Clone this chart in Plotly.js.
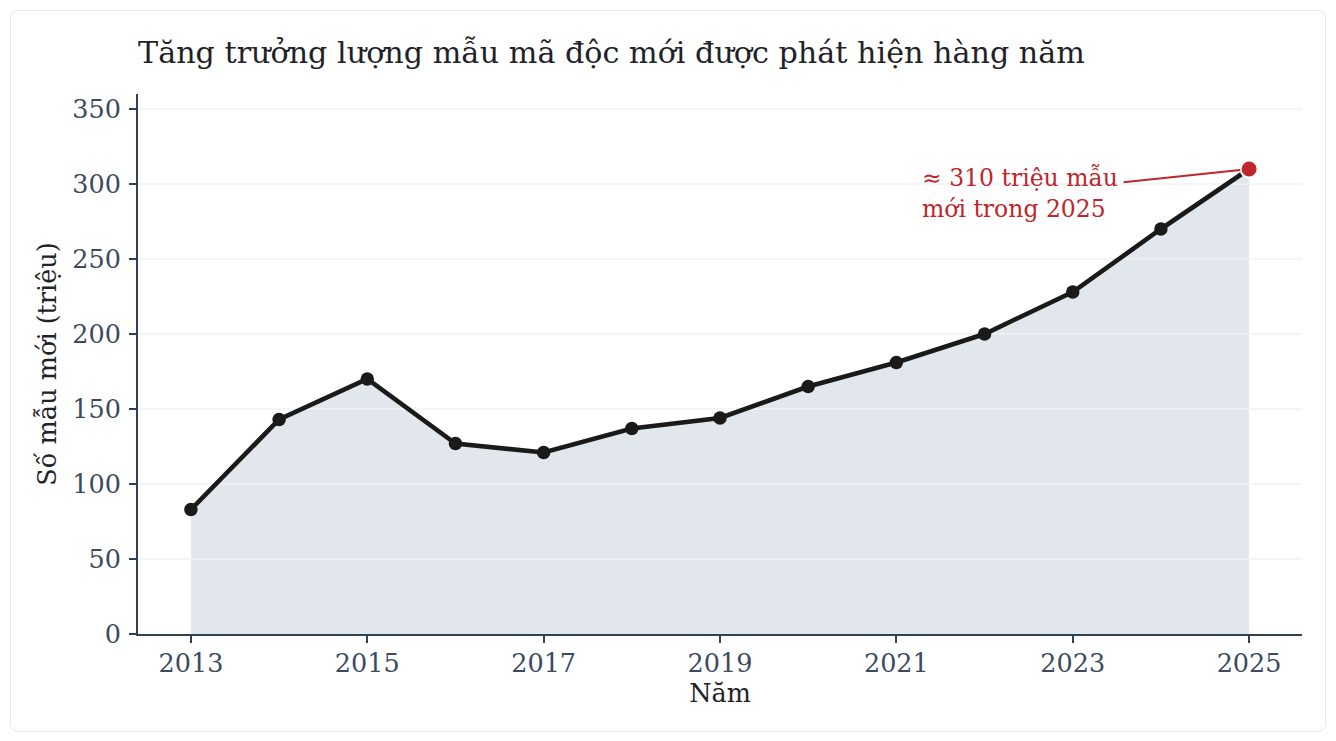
<!DOCTYPE html>
<html>
<head>
<meta charset="utf-8">
<script src="https://cdn.plot.ly/plotly-3.0.1.min.js"></script>
<style>
  html, body { margin: 0; padding: 0; background: #ffffff; }
  #card { position: absolute; left: 10px; top: 10px; width: 1316px; height: 722px;
          border: 1px solid #e3e8ef; border-radius: 8px; background: #ffffff; box-sizing: border-box; }
  #chart { position: absolute; left: 0; top: 0; width: 1336px; height: 741px; }
</style>
</head>
<body>
<div id="card"></div>
<div id="chart"></div>
<script>
const years = [2013, 2014, 2015, 2016, 2017, 2018, 2019, 2020, 2021, 2022, 2023, 2024, 2025];
const samples = [83, 143, 170, 127, 121, 137, 144, 165, 181, 200, 228, 270, 310];
const xTicks = [2013, 2015, 2017, 2019, 2021, 2023, 2025];
const yTicks = [0, 50, 100, 150, 200, 250, 300, 350];
const highlightYear = [2025];
const highlightValue = [310];
const annotationText = "≈ 310 triệu mẫu<br>mới trong 2025";

const xRange = [2012.4, 2025.6];
const yRange = [0, 360];
const FONT = "DejaVu Serif";

// gridlines drawn between the area fill and the line
const gx = [], gy = [];
yTicks.filter(v => v > 0).forEach(v => { gx.push(xRange[0], xRange[1], null); gy.push(v, v, null); });

const traces = [
  { x: years, y: samples, type: 'scatter', mode: 'lines', fill: 'tozeroy',
    fillcolor: '#e2e7ee', line: { color: '#d5dbe4', width: 1.5 }, hoverinfo: 'skip', showlegend: false },
  { x: gx, y: gy, type: 'scatter', mode: 'lines', line: { color: '#eff2f6', width: 1.5 },
    hoverinfo: 'skip', showlegend: false },
  { x: years, y: samples, type: 'scatter', mode: 'lines+markers',
    line: { color: '#1a1a1a', width: 4.6 }, marker: { color: '#1a1a1a', size: 13.5 }, showlegend: false },
  { x: highlightYear, y: highlightValue, type: 'scatter', mode: 'markers',
    marker: { color: '#c0262b', size: 17, line: { color: '#ffffff', width: 2 } }, showlegend: false }
];

const layout = {
  width: 1336, height: 741,
  paper_bgcolor: 'rgba(0,0,0,0)', plot_bgcolor: 'rgba(0,0,0,0)',
  margin: { l: 138, r: 34, t: 94, b: 107 },
  font: { family: FONT, color: '#1f2328' },
  title: { text: 'Tăng trưởng lượng mẫu mã độc mới được phát hiện hàng năm',
           x: 0, xref: 'paper', xanchor: 'left', y: 1 - 52 / 741, yref: 'container', yanchor: 'middle',
           font: { family: FONT, size: 30.2, color: '#1f2328' } },
  xaxis: {
    range: xRange, tickvals: xTicks, ticktext: xTicks.map(String),
    showgrid: false, zeroline: false,
    showline: true, linecolor: '#334155', linewidth: 2,
    ticks: 'outside', ticklen: 7, tickwidth: 2, tickcolor: '#334155',
    ticklabelstandoff: -2,
    tickfont: { family: FONT, size: 25.5, color: '#3b4a5e' },
    title: { text: 'Năm', font: { family: FONT, size: 25.5, color: '#1f2328' }, standoff: 7 }
  },
  yaxis: {
    range: yRange, tickvals: yTicks, ticktext: yTicks.map(String),
    showgrid: false, zeroline: false,
    showline: true, linecolor: '#334155', linewidth: 2,
    ticks: 'outside', ticklen: 7, tickwidth: 2, tickcolor: '#334155',
    ticklabelstandoff: 3,
    tickfont: { family: FONT, size: 25.5, color: '#3b4a5e' },
    title: { text: 'Số mẫu mới (triệu)', font: { family: FONT, size: 25.5, color: '#1f2328' }, standoff: 8 }
  },
  annotations: [{
    x: highlightYear[0], y: highlightValue[0], xref: 'x', yref: 'y',
    text: annotationText, align: 'left', borderpad: 5,
    showarrow: true, arrowhead: 0, arrowwidth: 2, arrowcolor: '#c0262b', standoff: 9,
    ax: -229, ay: 24,
    font: { family: FONT, size: 23.5, color: '#c0262b' }
  }]
};

Plotly.newPlot('chart', traces, layout, { displayModeBar: false, responsive: false });
</script>
</body>
</html>
